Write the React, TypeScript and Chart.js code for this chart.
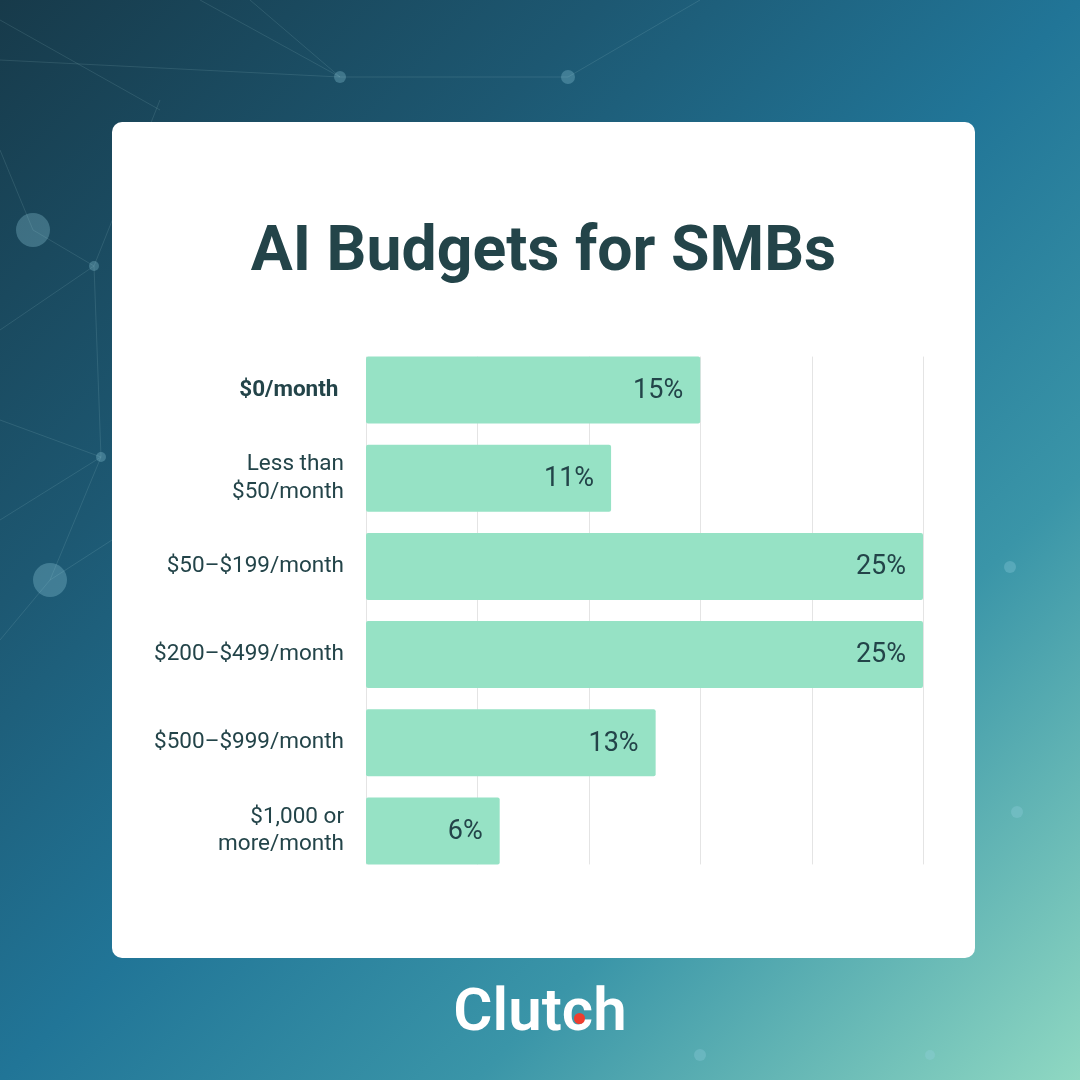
import React, { useEffect, useRef } from "react";
import { Chart, registerables } from "chart.js";

Chart.register(...registerables);

const categories: (string | string[])[] = [
  "$0/month ",
  ["Less than", "$50/month"],
  "$50–$199/month",
  "$200–$499/month",
  "$500–$999/month",
  ["$1,000 or", "more/month"],
];
const values = [15, 11, 25, 25, 13, 6];
const gridValues = [0, 5, 10, 15, 20, 25];

const TEXT = "#234449";
const BAR = "#96e2c5";

const gridPlugin = {
  id: "partialGrid",
  beforeDatasetsDraw(chart: any) {
    const meta = chart.getDatasetMeta(0);
    const els = meta.data;
    if (!els.length) return;
    const top = els[0].y - els[0].height / 2;
    const last = els[els.length - 1];
    const bottom = last.y + last.height / 2;
    const ctx = chart.ctx;
    ctx.save();
    ctx.strokeStyle = "#e4e4e4";
    ctx.lineWidth = 1;
    gridValues.forEach((v) => {
      const x = Math.round(chart.scales.x.getPixelForValue(v)) + 0.5;
      ctx.beginPath();
      ctx.moveTo(x, top);
      ctx.lineTo(x, bottom);
      ctx.stroke();
    });
    ctx.restore();
  },
};

const labelPlugin = {
  id: "valueLabels",
  afterDatasetsDraw(chart: any) {
    const meta = chart.getDatasetMeta(0);
    const ctx = chart.ctx;
    ctx.save();
    ctx.font = "400 27px Roboto";
    ctx.fillStyle = TEXT;
    ctx.textAlign = "right";
    ctx.textBaseline = "middle";
    meta.data.forEach((el: any, i: number) => {
      ctx.fillText(values[i] + "%", el.x - 17, el.y + 1);
    });
    ctx.restore();
  },
};

export default function App() {
  const ref = useRef<HTMLCanvasElement>(null);
  useEffect(() => {
    if (!ref.current) return;
    const chart = new Chart(ref.current, {
      type: "bar",
      data: {
        labels: categories,
        datasets: [
          {
            data: values,
            backgroundColor: BAR,
            borderRadius: 2,
            borderSkipped: false,
            barPercentage: 0.76,
            categoryPercentage: 1,
          },
        ],
      },
      options: {
        indexAxis: "y",
        animation: false,
        responsive: false,
        devicePixelRatio: 1,
        layout: { padding: { left: 0, top: 346, right: 157, bottom: 205 } },
        plugins: { legend: { display: false }, tooltip: { enabled: false }, title: { display: false } },
        scales: {
          x: { display: false, min: 0, max: 25 },
          y: {
            grid: { display: false, drawTicks: false },
            border: { display: false },
            afterFit: (scale: any) => {
              scale.width = 366;
            },
            ticks: {
              padding: 22,
              color: TEXT,
              font: (ctx: any) => ({
                family: "Roboto",
                size: 22.5,
                weight: ctx.index === 0 ? "bold" : "normal",
                lineHeight: 1.22,
              }),
            },
          },
        },
      },
      plugins: [gridPlugin, labelPlugin],
    } as any);
    return () => chart.destroy();
  }, []);

  const dots = [
    [33, 230, 17], [50, 580, 17], [94, 266, 5], [101, 457, 5], [340, 77, 6],
    [568, 77, 7], [1010, 567, 6], [1017, 812, 6], [700, 1055, 6], [930, 1055, 5],
  ];
  const lines = [
    [0, 60, 340, 77], [340, 77, 568, 77], [33, 230, 94, 266], [94, 266, 101, 457],
    [101, 457, 50, 580], [0, 330, 94, 266], [33, 230, 0, 150], [50, 580, 0, 640],
    [101, 457, 0, 520], [568, 77, 700, 0], [340, 77, 250, 0], [94, 266, 160, 100],
    [0, 20, 160, 110], [200, 0, 340, 77], [0, 420, 101, 457], [50, 580, 112, 540],
  ];

  return (
    <div
      style={{
        position: "fixed",
        left: 0,
        top: 0,
        width: 1080,
        height: 1080,
        overflow: "hidden",
        background:
          "linear-gradient(135deg, #173a4a 0%, #1d5872 28%, #217597 50%, #3a95a8 72%, #8fd8c2 100%)",
        fontFamily: "Roboto, sans-serif",
      }}
    >
      <svg width={1080} height={1080} style={{ position: "absolute", left: 0, top: 0 }}>
        {lines.map((l, i) => (
          <line key={i} x1={l[0]} y1={l[1]} x2={l[2]} y2={l[3]} stroke="rgba(200,235,240,0.12)" strokeWidth={1} />
        ))}
        {dots.map((d, i) => (
          <circle key={i} cx={d[0]} cy={d[1]} r={d[2]} fill="rgba(150,210,225,0.3)" />
        ))}
      </svg>
      <div
        style={{
          position: "absolute",
          left: 112,
          top: 122,
          width: 863,
          height: 836,
          background: "#ffffff",
          borderRadius: 10,
        }}
      />
      <div
        style={{
          position: "absolute",
          left: 112,
          width: 863,
          top: 211,
          textAlign: "center",
          fontFamily: "Roboto",
          fontWeight: 700,
          fontSize: 62.5,
          lineHeight: "76px",
          color: TEXT,
        }}
      >
        AI Budgets for SMBs
      </div>
      <canvas
        ref={ref}
        width={1080}
        height={1080}
        style={{ position: "absolute", left: 0, top: 0, width: 1080, height: 1080 }}
      />
      <div
        style={{
          position: "absolute",
          left: 0,
          width: 1080,
          top: 972,
          textAlign: "center",
          fontFamily: "Roboto",
          fontWeight: 600,
          fontSize: 60,
          lineHeight: "76px",
          color: "#ffffff",
        }}
      >
        Clut
        <span style={{ position: "relative" }}>
          c
          <span
            style={{
              position: "absolute",
              left: "58%",
              top: 39,
              width: 11,
              height: 11,
              marginLeft: -5.5,
              borderRadius: "50%",
              background: "#ef3e2e",
            }}
          />
        </span>
        h
      </div>
    </div>
  );
}
